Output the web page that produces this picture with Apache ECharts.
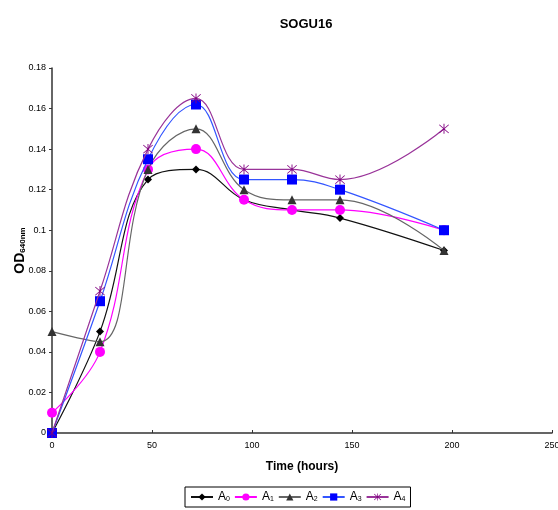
<!DOCTYPE html>
<html>
<head>
<meta charset="utf-8">
<script src="https://cdn.jsdelivr.net/npm/echarts@6/dist/echarts.min.js"></script>
<style>
  html, body { margin: 0; padding: 0; background: #fff; }
  #chart { width: 558px; height: 510px; }
</style>
</head>
<body>
<div id="chart"></div>
<script>
const hours = [0, 24, 48, 72, 96, 120, 144, 196];
const seriesNames = ['A0', 'A1', 'A2', 'A3', 'A4'];
const a0 = [0, 0.05, 0.125, 0.13, 0.115, 0.11, 0.106, 0.09];
const a1 = [0.01, 0.04, 0.13, 0.14, 0.115, 0.11, 0.11, 0.1];
const a2 = [0.05, 0.045, 0.13, 0.15, 0.12, 0.115, 0.115, 0.09];
const a3 = [0, 0.065, 0.135, 0.162, 0.125, 0.125, 0.12, 0.1];
const a4 = [0, 0.07, 0.14, 0.165, 0.13, 0.13, 0.125, 0.15];

const chart = echarts.init(document.getElementById('chart'));

// thin asterisk marker
const asterisk = 'path://M4.6,0L5.4,0L5.4,10L4.6,10Z M0.6,1.1L1.1,0.6L9.4,8.9L8.9,9.4Z M8.9,0.6L9.4,1.1L1.1,9.4L0.6,8.9Z';

const styles = [
  { data: a0, symbol: 'diamond', size: 8, line: '#111', mark: '#000' },
  { data: a1, symbol: 'circle', size: 10, line: '#ff00ff', mark: '#ff00ff' },
  { data: a2, symbol: 'triangle', size: 9, line: '#666', mark: '#333' },
  { data: a3, symbol: 'rect', size: 10, line: '#3355ff', mark: '#0000ff' },
  { data: a4, symbol: asterisk, size: 10, line: '#993399', mark: '#800080' }
];

const series = styles.map((s, i) => ({
  name: seriesNames[i],
  type: 'line',
  smooth: 0.4,
  symbol: s.symbol,
  symbolSize: s.size,
  data: hours.map((h, j) => [h, s.data[j]]),
  lineStyle: { color: s.line, width: 1.2 },
  itemStyle: { color: s.mark, borderColor: s.mark, borderWidth: 0 },
  z: 2 + i
}));

chart.setOption({
  backgroundColor: '#fff',
  animation: false,
  title: {
    text: 'SOGU16',
    left: 301,
    top: 13,
    textAlign: 'center',
    textStyle: { fontFamily: 'Liberation Sans', fontSize: 13, fontWeight: 'bold', color: '#000' }
  },
  grid: { left: 52, right: 6, top: 68, bottom: 77, outerBoundsMode: 'none' },
  xAxis: {
    type: 'value',
    min: 0,
    max: 250,
    interval: 50,
    name: 'Time (hours)',
    nameLocation: 'middle',
    nameGap: 28,
    nameTextStyle: { fontFamily: 'Liberation Sans', fontSize: 12, fontWeight: 'bold', color: '#000' },
    axisLine: { lineStyle: { color: '#333', width: 1.5 } },
    axisTick: { inside: true, length: 3, lineStyle: { color: '#333' } },
    axisLabel: { fontFamily: 'Liberation Sans', fontSize: 9, color: '#000', margin: 8 },
    splitLine: { show: false }
  },
  yAxis: {
    type: 'value',
    min: 0,
    max: 0.18,
    interval: 0.02,
    name: '{b|OD}{s|640nm}',
    nameLocation: 'middle',
    nameGap: 25,
    nameMoveOverlap: false,
    nameTextStyle: {
      rich: {
        b: { fontFamily: 'Liberation Sans', fontSize: 14, fontWeight: 'bold', color: '#000' },
        s: { fontFamily: 'Liberation Sans', fontSize: 8, fontWeight: 'bold', color: '#000', verticalAlign: 'bottom', padding: [6, 0, 0, 0] }
      }
    },
    axisLine: { show: true, lineStyle: { color: '#333', width: 1.5 } },
    axisTick: { show: true, length: 3, lineStyle: { color: '#333' } },
    axisLabel: { fontFamily: 'Liberation Sans', fontSize: 9, color: '#000', margin: 6 },
    splitLine: { show: false }
  },
  legend: {
    data: seriesNames,
    left: 185,
    top: 487,
    itemGap: 4,
    itemWidth: 22,
    itemHeight: 9,
    padding: [4, 5, 4, 5],
    borderColor: '#000',
    borderWidth: 1,
    borderRadius: 0,
    formatter: (name) => 'A{s|' + name.slice(1) + '}',
    textStyle: {
      fontFamily: 'Liberation Sans',
      fontSize: 12,
      color: '#000',
      rich: { s: { fontSize: 7, verticalAlign: 'bottom', padding: [5, 0, 0, 0] } }
    }
  },
  series: series
});
</script>
</body>
</html>
